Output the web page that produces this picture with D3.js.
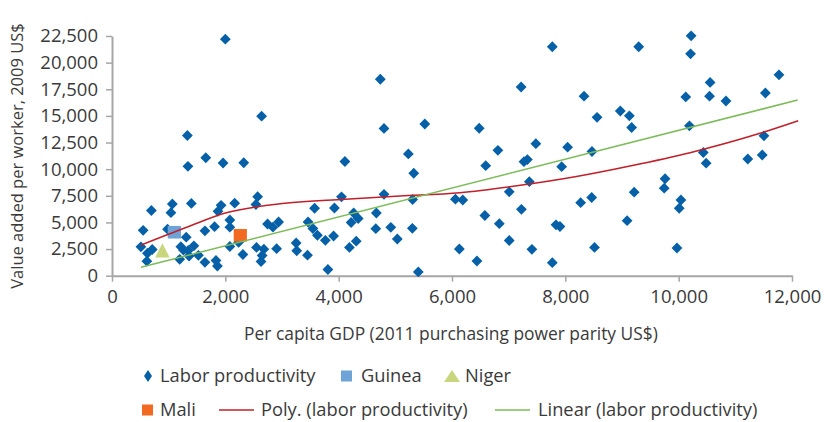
<!DOCTYPE html>
<html><head><meta charset="utf-8">
<script src="https://cdn.jsdelivr.net/npm/d3@7"></script>
<style>
body{margin:0;background:#fff;}
text{font-family:"Open Sans","Noto Sans",sans-serif;fill:#3a3a3a;}
</style></head>
<body><svg id="c" width="825" height="422"></svg>
<script>
// Labor productivity: [per capita GDP, value added per worker]
const gdp = [2000,4735,2640,1330,4800,5520,1655,5230,4110,7770,9295,10220,10210,7220,11770,8330,10125,10555,10545,10835,11530,6480,8560,8970,9130,9170,10190,6810,7480,8040,8470,7935,11505,10435,10485,11220,11475,9760,9745,9215,8465,8270,10040,10010,9090,8515,9970,6595,7270,7330,7365,7010,5325,4050,4800,5305,6060,6190,3925,4265,4665,4220,4345,6580,6835,7225,7835,7905,4655,4920,5300,3910,4310,4190,5035,6130,7010,7410,6440,7770,5405,3810,1340,1960,2325,2570,2540,2165,1925,1870,1400,1065,1040,695,2080,2080,1810,1640,1310,980,550,510,710,625,615,1215,1260,1345,1445,1195,1360,1525,1640,1835,1860,2080,2235,2310,2550,2680,2650,2630,2905,2745,2940,2840,3250,3260,3450,3575,3460,3545,3625,3765];
const productivity = [22200,18440,14970,13160,13820,14240,11070,11430,10720,21490,21490,22520,20830,17715,18860,16850,16780,18140,16850,16400,17150,13840,14870,15460,15010,13910,14070,11770,12390,12060,11660,10230,13130,11565,10560,10955,11330,9100,8215,7840,7340,6855,7105,6330,5165,2650,2600,10330,10700,10900,8825,7875,9615,7405,7640,7155,7180,7105,6355,5885,5885,4995,5370,5650,4880,6235,4780,4620,4410,4545,4450,3725,3240,2650,3445,2505,3305,2480,1380,1220,350,580,10270,10580,10600,7415,6685,6805,6610,6045,6780,6730,5915,6120,5230,4555,4600,4215,3615,4365,4260,2715,2460,2105,1360,2720,2410,2365,2805,1540,1850,1915,1260,1425,910,2740,3135,1990,2650,2490,1895,1335,2535,4855,5040,4555,3070,2340,1925,6330,5040,4430,3795,3325];
const guinea = [1100, 4080];
const niger = [890, 2250];
const mali = [2264, 3790];
// trend lines (points along each curve)
const polyTrendX = [512, 1318, 2000, 3053, 4112, 5082, 6141, 7112, 8171, 9141, 10200, 11435, 12110];
const polyTrendY = [2880, 4550, 5880, 6800, 7170, 7470, 7790, 8420, 9290, 10300, 11550, 13370, 14550];
const linTrendX = [512, 12100];
const linTrendY = [790, 16490];
const xTicks = [0,2000,4000,6000,8000,10000,12000];
const yTicks = [0,2500,5000,7500,10000,12500,15000,17500,20000,22500];
const xTitle = "Per capita GDP (2011 purchasing power parity US$)";
const yTitle = "Value added per worker, 2009 US$";
const legendRow1 = ["Labor productivity","Guinea","Niger"];
const legendRow2 = ["Mali","Poly. (labor productivity)","Linear (labor productivity)"];

const C = {blue:"#0560a8", guinea:"#6fa3d8", niger:"#c9d67d", mali:"#f26a22", red:"#c0202a", green:"#7dbb5a", axis:"#a6a6a6"};

const svg = d3.select("#c");
const x = d3.scaleLinear().domain([0,12000]).range([112,792]);
const y = d3.scaleLinear().domain([0,22500]).range([275.7,36]);
const fmt = d3.format(",");

// axes
const gy = svg.append("g").attr("transform","translate(112,0)")
  .call(d3.axisLeft(y).tickValues(yTicks).tickFormat(fmt).tickSize(6).tickSizeOuter(0).tickPadding(8));
const gx = svg.append("g").attr("transform","translate(0,275.7)")
  .call(d3.axisBottom(x).tickValues(xTicks).tickFormat(fmt).tickSize(6).tickSizeOuter(0).tickPadding(8.5));
[gx,gy].forEach(g=>{
  g.select(".domain").attr("stroke",C.axis).attr("stroke-width",2);
  g.selectAll(".tick line").attr("stroke",C.axis).attr("stroke-width",1.5);
  g.selectAll(".tick text").attr("font-size",18.5).attr("fill","#3a3a3a").attr("font-family",null);
});

// titles
svg.append("text").attr("x",451).attr("y",340).attr("text-anchor","middle").attr("font-size",17.4).text(xTitle);
svg.append("text").attr("transform","translate(23,156) rotate(-90)").attr("text-anchor","middle").attr("font-size",16.5).text(yTitle);

// points
const diamond = (w,h)=>`M0,${-h}L${w},0L0,${h}L${-w},0Z`;
const pts = gdp.map((g,i)=>[g,productivity[i]]);
svg.append("g").selectAll("path").data(pts).join("path")
  .attr("d",diamond(5.4,5.4)).attr("fill",C.blue)
  .attr("transform",d=>`translate(${x(d[0])},${y(d[1])})`);

svg.append("rect").attr("x",x(guinea[0])-6.6).attr("y",y(guinea[1])-6.3).attr("width",13.2).attr("height",12.6).attr("fill",C.guinea);
svg.append("path").attr("d","M0,-8.5L7.2,5.8L-7.2,5.8Z").attr("fill",C.niger)
  .attr("transform",`translate(${x(niger[0])},${y(niger[1])})`);
svg.append("rect").attr("x",x(mali[0])-6.6).attr("y",y(mali[1])-6.3).attr("width",13.2).attr("height",12.6).attr("fill",C.mali);

// trend lines
const trend = (xs,ys,curve)=>d3.line().x(d=>x(d[0])).y(d=>y(d[1])).curve(curve)(xs.map((v,i)=>[v,ys[i]]));
svg.append("path").attr("d",trend(polyTrendX,polyTrendY,d3.curveMonotoneX)).attr("fill","none").attr("stroke",C.red).attr("stroke-width",1.5);
svg.append("path").attr("d",trend(linTrendX,linTrendY,d3.curveLinear)).attr("fill","none").attr("stroke",C.green).attr("stroke-width",1.5);

// legend
const L1 = svg.append("g").attr("font-size",18.3);
const r1=376, r2=410;
L1.append("path").attr("d",diamond(4,6)).attr("fill",C.blue).attr("transform",`translate(148,${r1})`);
L1.append("text").attr("x",160).attr("y",r1).attr("dy","0.35em").text(legendRow1[0]);
L1.append("rect").attr("x",341).attr("y",r1-5.5).attr("width",11).attr("height",11).attr("fill",C.guinea);
L1.append("text").attr("x",361).attr("y",r1).attr("dy","0.35em").text(legendRow1[1]);
L1.append("path").attr("d","M0,-6L8,6L-8,6Z").attr("fill",C.niger).attr("transform",`translate(452,${r1})`);
L1.append("text").attr("x",465).attr("y",r1).attr("dy","0.35em").text(legendRow1[2]);
L1.append("rect").attr("x",142).attr("y",r2-5.5).attr("width",11).attr("height",11).attr("fill",C.mali);
L1.append("text").attr("x",160).attr("y",r2).attr("dy","0.35em").text(legendRow2[0]);
L1.append("line").attr("x1",219).attr("x2",254).attr("y1",r2).attr("y2",r2).attr("stroke",C.red).attr("stroke-width",1.5);
L1.append("text").attr("x",261).attr("y",r2).attr("dy","0.35em").text(legendRow2[1]);
L1.append("line").attr("x1",495).attr("x2",530).attr("y1",r2).attr("y2",r2).attr("stroke",C.green).attr("stroke-width",1.5);
L1.append("text").attr("x",538).attr("y",r2).attr("dy","0.35em").text(legendRow2[2]);
</script></body></html>
